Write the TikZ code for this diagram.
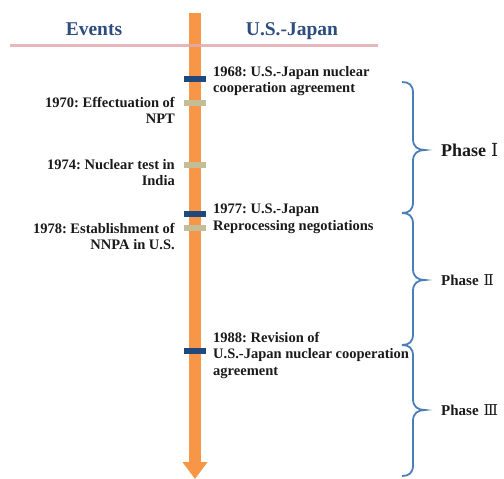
\documentclass[tikz,border=0pt]{standalone}
\usepackage{fontspec}
\setmainfont{Liberation Serif}
\newfontfamily\numfont{DejaVu Serif}
\usetikzlibrary{arrows.meta}
\frenchspacing
\definecolor{barorange}{HTML}{F79646}
\definecolor{mblue}{HTML}{1F497D}
\definecolor{mtan}{HTML}{C4BD97}
\definecolor{hdrblue}{HTML}{2C4D7E}
\definecolor{rose}{HTML}{E3A9AF}
\definecolor{brblue}{HTML}{4A7EBB}
\definecolor{txt}{HTML}{1A1A1A}
\newcommand\phbrace[3]{%
  \draw[brace] (402,#1) .. controls (409,#1) and (413,#1+3) .. (413,#1+11)
    -- (413,#2-11) .. controls (413,#2-3) and (418,#2) .. (425,#2)
    .. controls (418,#2) and (413,#2+3) .. (413,#2+11)
    -- (413,#3-11) .. controls (413,#3-3) and (409,#3) .. (402,#3);}
\begin{document}
\begin{tikzpicture}[x=1pt,y=-1pt,
  marker/.style={minimum width=22pt,minimum height=6pt,inner sep=0pt,draw=none},
  usmark/.style={marker,fill=mblue},
  evmark/.style={marker,fill=mtan},
  evtxt/.style={font=\fontsize{14.5}{16.5}\selectfont\bfseries\frenchspacing,text=txt,inner sep=0pt,align=right,anchor=north east},
  ustxt/.style={font=\fontsize{14.5}{16.5}\selectfont\bfseries\frenchspacing,text=txt,inner sep=0pt,align=left,anchor=north west},
  hdr/.style={font=\fontsize{19.5}{22}\selectfont\bfseries,text=hdrblue,inner sep=0pt,anchor=base},
  brace/.style={draw=brblue,line width=1.8pt},
  phase/.style={text=txt,anchor=west,inner sep=0pt}]
\useasboundingbox (0,0) rectangle (504,479);
% timeline bar
\coordinate (bartop) at (195,13);
\coordinate (barend) at (195,479);
\draw[barorange,line width=12pt,-{Triangle[width=24pt,length=17pt]}] (bartop) -- (barend);
% header line
\coordinate (hl) at (10,45);
\coordinate (hr) at (378,45);
\draw[rose,line width=3pt,opacity=0.85] (hl) -- (hr);
% headers
\node[hdr] (hev) at (94,35) {Events};
\node[hdr] (hus) at (292,35) {U.S.-Japan};
% markers
\node[usmark] (m1968) at (195,78.5) {};
\node[evmark] (m1970) at (195,102.5) {};
\node[evmark] (m1974) at (195,165) {};
\node[usmark] (m1977) at (195,214) {};
\node[evmark] (m1978) at (195,228) {};
\node[usmark] (m1988) at (195,350.5) {};
% texts
\node[ustxt] (t1968) at (213,66) {1968: U.S.-Japan nuclear\\cooperation agreement};
\node[evtxt] (t1970) at (175,97) {1970: Effectuation of\\NPT};
\node[evtxt] (t1974) at (175,159) {1974: Nuclear test in\\India};
\node[ustxt] (t1977) at (213,204) {1977: U.S.-Japan\\Reprocessing negotiations};
\node[evtxt] (t1978) at (175,223) {1978: Establishment of\\NNPA in U.S.};
\node[ustxt] (t1988) at (213,332) {1988: Revision of\\U.S.-Japan nuclear cooperation\\agreement};
% braces
\phbrace{82}{150}{213}
\phbrace{213}{280}{345}
\phbrace{345}{410}{476}
% phase labels
\node[phase,font=\fontsize{18}{20}\selectfont\bfseries] (p1) at (441,150) {Phase\hspace{5pt}{\numfont\mdseries Ⅰ}};
\node[phase,font=\fontsize{15}{17}\selectfont\bfseries] (p2) at (441,280) {Phase\hspace{5pt}{\numfont\mdseries Ⅱ}};
\node[phase,font=\fontsize{15}{17}\selectfont\bfseries] (p3) at (441,410) {Phase\hspace{5pt}{\numfont\mdseries Ⅲ}};
\end{tikzpicture}
\end{document}
